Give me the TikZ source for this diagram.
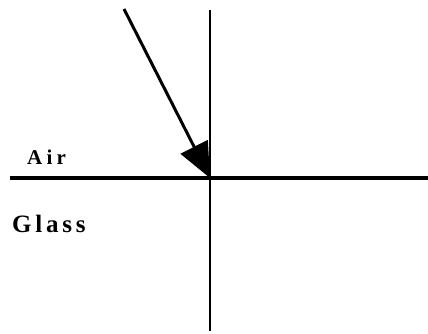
\documentclass[tikz,border=0pt]{standalone}
\usepackage{fontspec}
\setmainfont{Liberation Serif}
\usetikzlibrary{arrows.meta}
\begin{document}
\begin{tikzpicture}[x=1pt,y=-1pt,
  lbl/.style={anchor=base west, inner sep=0pt},
  ray/.style={line width=3pt, -{Triangle[length=35pt,width=30pt]}}]
\useasboundingbox (0,0) rectangle (428,333);
\coordinate (hl) at (10,178);
\coordinate (hr) at (428,178);
\coordinate (vt) at (210,10);
\coordinate (vb) at (210,331);
\coordinate (src) at (124,9);
\coordinate (o) at (210,178);
\draw[line width=1.3pt] (vt) -- (vb);
\draw[line width=4pt] (hl) -- (hr);
\draw[ray] (src) -- (o);
\node[lbl, font=\fontsize{21}{23}\selectfont\bfseries\addfontfeatures{LetterSpace=20}] (air) at (27,164) {Air};
\node[lbl, font=\fontsize{25}{27}\selectfont\bfseries\addfontfeatures{LetterSpace=15}] (glass) at (12,232) {Glass};
\end{tikzpicture}
\end{document}
